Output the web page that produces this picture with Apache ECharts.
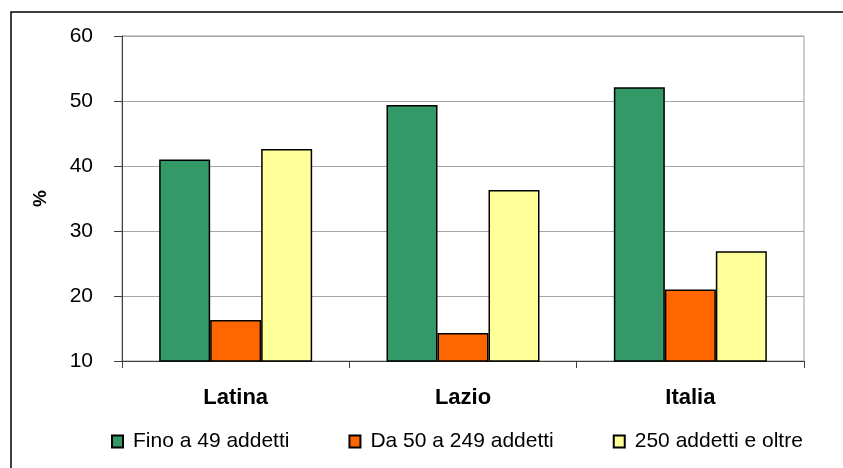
<!DOCTYPE html>
<html>
<head>
<meta charset="utf-8">
<script src="https://cdn.jsdelivr.net/npm/echarts@6/dist/echarts.min.js"></script>
<style>
  html, body { margin: 0; padding: 0; background: #fff; }
  #chart { width: 843px; height: 468px; }
</style>
</head>
<body>
<div id="chart"></div>
<script>
// Share of employees by firm size class (%)
const categories = ['Latina', 'Lazio', 'Italia'];
const seriesNames = ['Fino a 49 addetti', 'Da 50 a 249 addetti', '250 addetti e oltre'];
const fino49 = [41.0, 49.4, 52.1];
const da50a249 = [16.3, 14.3, 21.0];
const oltre250 = [42.6, 36.3, 26.9];
const yTicks = [10, 20, 30, 40, 50, 60];

const colors = ['#339966', '#FF6600', '#FFFF99'];
const font = '"Liberation Sans", Arial, sans-serif';
const values = [fino49, da50a249, oltre250];

const chart = echarts.init(document.getElementById('chart'), null, { renderer: 'canvas' });

chart.setOption({
  animation: false,
  backgroundColor: '#ffffff',
  grid: {
    left: 122, right: 39, top: 36, bottom: 107,
    show: true, borderColor: '#9a9a9a', borderWidth: 1, backgroundColor: '#ffffff'
  },
  graphic: [{
    type: 'rect',
    shape: { x: 11, y: 12, width: 900, height: 500 },
    style: { fill: 'none', stroke: '#000', lineWidth: 1.5 },
    silent: true, z: -1
  }],
  legend: {
    data: seriesNames,
    left: 106, top: 426,
    itemWidth: 11, itemHeight: 12, itemGap: 59,
    icon: 'rect',
    textStyle: { fontFamily: font, fontSize: 21, color: '#000', padding: [0, 0, 0, 5] }
  },
  xAxis: {
    type: 'category',
    data: categories,
    axisLine: { lineStyle: { color: '#404040', width: 1 } },
    axisTick: { show: true, length: 7, alignWithLabel: false, lineStyle: { color: '#404040' } },
    axisLabel: { fontFamily: font, fontSize: 22, fontWeight: 'bold', color: '#000', margin: 26 },
    splitLine: { show: false }
  },
  yAxis: {
    type: 'value',
    min: yTicks[0], max: yTicks[yTicks.length - 1], interval: 10,
    name: '%', nameLocation: 'middle', nameRotate: 90, nameGap: 72,
    nameTextStyle: { fontFamily: font, fontSize: 19, fontWeight: 'bold', color: '#000' },
    axisLine: { show: true, lineStyle: { color: '#404040', width: 1 } },
    axisTick: { show: true, length: 8, lineStyle: { color: '#404040' } },
    axisLabel: { fontFamily: font, fontSize: 21, color: '#000', margin: 29 },
    splitLine: { show: true, lineStyle: { color: '#a6a6a6', width: 1 } }
  },
  series: seriesNames.map((name, i) => ({
    name,
    type: 'bar',
    data: values[i],
    barWidth: 51,
    barGap: '0%',
    itemStyle: { color: colors[i], borderColor: '#000', borderWidth: 1.5 }
  }))
});
</script>
</body>
</html>
